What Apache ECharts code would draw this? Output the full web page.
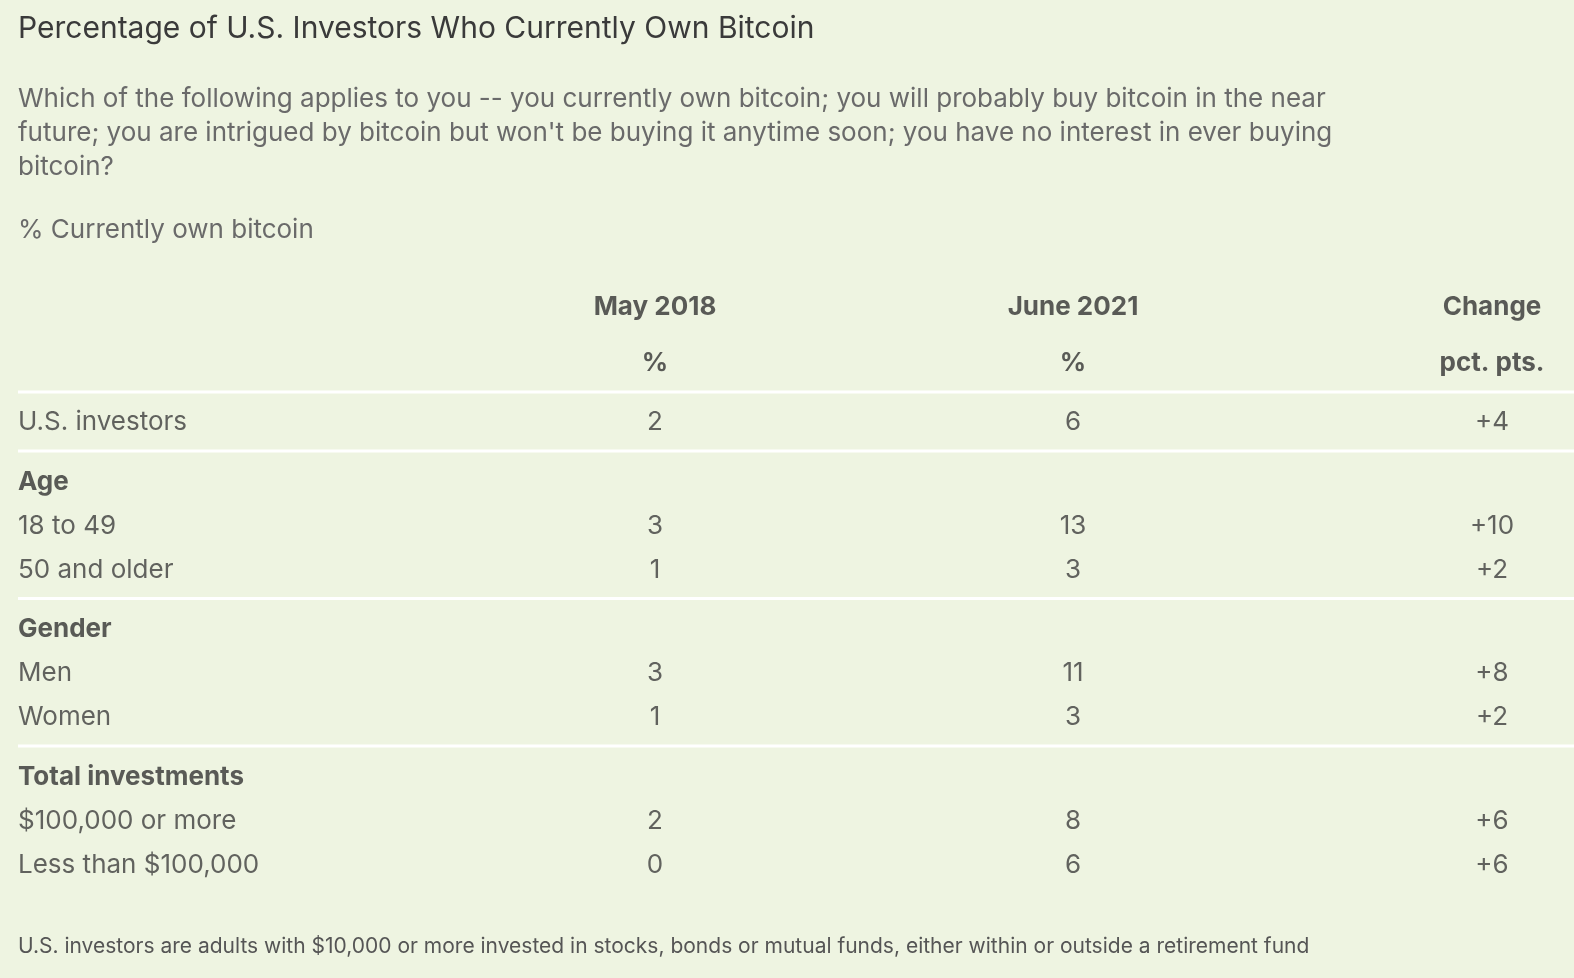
<!DOCTYPE html>
<html><head><meta charset="utf-8">
<script src="https://cdn.jsdelivr.net/npm/echarts@6/dist/echarts.min.js"></script>
<style>html,body{margin:0;background:#eef4e1}#c{width:1574px;height:978px}</style>
</head><body><div id="c"></div>
<script>
const columns = ['May 2018', 'June 2021', 'Change'];
const units = ['%', '%', 'pct. pts.'];
const rowLabels = ['U.S. investors', 'Age', '18 to 49', '50 and older', 'Gender', 'Men', 'Women',
  'Total investments', '$100,000 or more', 'Less than $100,000'];
const isGroup = [false, true, false, false, true, false, false, true, false, false];
const may2018 = [2, null, 3, 1, null, 3, 1, null, 2, 0];
const june2021 = [6, null, 13, 3, null, 11, 3, null, 8, 6];
const change = ['+4', null, '+10', '+2', null, '+8', '+2', null, '+6', '+6'];
// vertical gap before each row (layout)
const rowGap = [59, 60, 44, 44, 59, 44, 44, 60, 44, 44];

const colX = [18, 655, 1073, 1492];
const headY = 307, unitY = 363;
const rowY = [];
let y = unitY;
rowGap.forEach(g => { y += g; rowY.push(y); });

const font = 'Inter, "Noto Sans", sans-serif';
const cells = [];
columns.forEach((c, i) => {
  cells.push({ value: [colX[i + 1], headY], t: c, bold: true, align: 'center' });
  cells.push({ value: [colX[i + 1], unitY], t: units[i], bold: true, align: 'center' });
});
rowLabels.forEach((r, i) => {
  cells.push({ value: [colX[0], rowY[i]], t: r, bold: isGroup[i], align: 'left' });
  [may2018, june2021, change].forEach((arr, j) => {
    if (arr[i] !== null) cells.push({ value: [colX[j + 1], rowY[i]], t: String(arr[i]), bold: false, align: 'center' });
  });
});
cells.forEach(c => {
  c.label = { show: true, position: 'inside', formatter: c.t, align: c.align, verticalAlign: 'middle',
    fontFamily: font, fontSize: 26, color: c.bold ? '#333' : '#3d3d3d', fontWeight: c.bold ? 'bold' : 'normal' };
});

// separator lines sit midway between sections
const sepAfter = [null, 0, 3, 6];
const seps = sepAfter.map(i => i === null ? 392 : (rowY[i] + rowY[i + 1]) / 2 - 1);

const chart = echarts.init(document.getElementById('c'));
chart.setOption({
  backgroundColor: '#eef4e1',
  animation: false,
  grid: { left: 0, right: 0, top: 0, bottom: 0 },
  xAxis: { type: 'value', min: 0, max: 1574, show: false },
  yAxis: { type: 'value', min: 0, max: 978, inverse: true, show: false },
  graphic: [
    { type: 'text', left: 18, top: 14, style: { text: 'Percentage of U.S. Investors Who Currently Own Bitcoin', font: '30px ' + font, fill: '#3a3a3a' } },
    { type: 'text', left: 18, top: 82, style: { text: "Which of the following applies to you -- you currently own bitcoin; you will probably buy bitcoin in the near\nfuture; you are intrigued by bitcoin but won't be buying it anytime soon; you have no interest in ever buying\nbitcoin?", font: '26px ' + font, fill: '#6a6a6a', lineHeight: 34 } },
    { type: 'text', left: 18, top: 217, style: { text: '% Currently own bitcoin', font: '26px ' + font, fill: '#6a6a6a' } },
    { type: 'text', left: 18, top: 936, style: { text: 'U.S. investors are adults with $10,000 or more invested in stocks, bonds or mutual funds, either within or outside a retirement fund', font: '21px ' + font, fill: '#555' } }
  ].concat(seps.map(s => ({ type: 'rect', shape: { x: 18, y: s - 1.5, width: 1556, height: 3 }, style: { fill: '#ffffff' } }))),
  series: [{ type: 'scatter', symbolSize: 0, data: cells, silent: true }]
});
</script></body></html>
